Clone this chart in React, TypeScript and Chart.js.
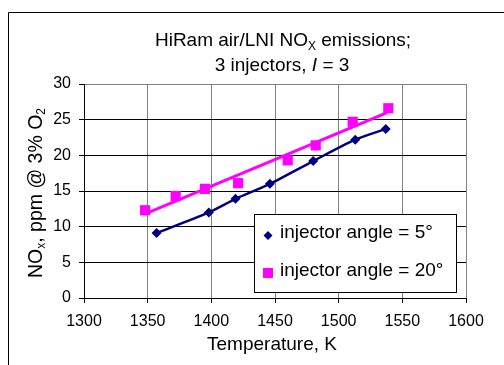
import React, { useEffect, useRef } from "react";
import { Chart, registerables } from "chart.js";

Chart.register(...registerables);

// ---- data ----
const temp5: number[] = [1357, 1398, 1419, 1446, 1480, 1513, 1537];
const nox5: number[] = [9.1, 12.0, 13.9, 16.0, 19.2, 22.2, 23.7];
const temp20: number[] = [1348, 1372, 1395, 1421, 1460, 1482, 1511, 1539];
const nox20: number[] = [12.3, 14.3, 15.3, 16.1, 19.3, 21.4, 24.7, 26.6];
const trendTemp20: number[] = [1348, 1538];
const trendNox20: number[] = [11.8, 26.0];
const seriesLabels: string[] = ["injector angle = 5°", "injector angle = 20°"];
const xTicks: number[] = [1300, 1350, 1400, 1450, 1500, 1550, 1600];
const yTicks: number[] = [0, 5, 10, 15, 20, 25, 30];

const FONT = '"Liberation Sans", Arial, sans-serif';
const NAVY = "#000080";
const MAGENTA = "#FF00FF";

type Run = { t: string; size: number; italic?: boolean; dy?: number };

function drawRuns(ctx: CanvasRenderingContext2D, runs: Run[], cx: number, y: number) {
  let total = 0;
  const widths = runs.map((r) => {
    ctx.font = `${r.italic ? "italic " : ""}${r.size}px ${FONT}`;
    const w = ctx.measureText(r.t).width;
    total += w;
    return w;
  });
  let x = cx - total / 2;
  ctx.textAlign = "left";
  ctx.textBaseline = "alphabetic";
  runs.forEach((r, i) => {
    ctx.font = `${r.italic ? "italic " : ""}${r.size}px ${FONT}`;
    ctx.fillText(r.t, x, y + (r.dy || 0));
    x += widths[i];
  });
}

const overlayPlugin = {
  id: "overlay",
  afterDraw(chart: any) {
    const ctx: CanvasRenderingContext2D = chart.ctx;
    const a = chart.chartArea;
    ctx.save();
    // outer frame
    ctx.strokeStyle = "#000";
    ctx.lineWidth = 1;
    ctx.beginPath();
    ctx.moveTo(8.5, 365);
    ctx.lineTo(8.5, 12.5);
    ctx.lineTo(504, 12.5);
    ctx.stroke();

    ctx.fillStyle = "#000";
    // title
    drawRuns(ctx, [
      { t: "HiRam air/LNI NO", size: 19 },
      { t: "X", size: 12, dy: 4 },
      { t: " emissions;", size: 19 },
    ], 283, 46);
    drawRuns(ctx, [
      { t: "3 injectors, ", size: 19 },
      { t: "I", size: 19, italic: true },
      { t: " = 3", size: 19 },
    ], 282, 71);

    // x title
    drawRuns(ctx, [{ t: "Temperature, K", size: 19 }], (a.left + a.right) / 2 - 3, 350);

    // y title
    ctx.save();
    ctx.translate(42, (a.top + a.bottom) / 2 + 2);
    ctx.rotate(-Math.PI / 2);
    drawRuns(ctx, [
      { t: "NO", size: 19.5 },
      { t: "x", size: 12, dy: 3 },
      { t: ", ppm @ 3% O", size: 19.5 },
      { t: "2", size: 12, dy: 3 },
    ], 0, 0);
    ctx.restore();

    // legend
    const lx = 254.5, ly = 214.5, lw = 202, lh = 78;
    ctx.fillStyle = "#fff";
    ctx.fillRect(lx, ly, lw, lh);
    ctx.strokeStyle = "#000";
    ctx.strokeRect(lx, ly, lw, lh);
    const ds = chart.data.datasets;
    // row 1 diamond
    ctx.fillStyle = ds[0].pointBackgroundColor;
    ctx.beginPath();
    const dx = 268, dyy = 235.5, r = 4.5;
    ctx.moveTo(dx - r, dyy);
    ctx.lineTo(dx, dyy - r);
    ctx.lineTo(dx + r, dyy);
    ctx.lineTo(dx, dyy + r);
    ctx.closePath();
    ctx.fill();
    // row 2 square
    ctx.fillStyle = ds[1].pointBackgroundColor;
    ctx.fillRect(263, 268, 10, 10);
    ctx.fillStyle = "#000";
    ctx.font = `19px ${FONT}`;
    ctx.textAlign = "left";
    ctx.textBaseline = "alphabetic";
    ctx.fillText(seriesLabels[0], 280, 238);
    ctx.fillText(seriesLabels[1], 280, 276);
    ctx.restore();
  },
};

export default function App() {
  const ref = useRef<HTMLCanvasElement | null>(null);
  useEffect(() => {
    if (!ref.current) return;
    const chart = new Chart(ref.current, {
      type: "scatter",
      data: {
        datasets: [
          {
            label: seriesLabels[0],
            data: temp5.map((x, i) => ({ x, y: nox5[i] })),
            showLine: true,
            borderColor: NAVY,
            borderWidth: 2.5,
            tension: 0.25,
            pointStyle: "rectRot",
            pointRadius: 5,
            pointBackgroundColor: NAVY,
            pointBorderColor: NAVY,
            pointBorderWidth: 0,
          },
          {
            label: seriesLabels[1],
            data: temp20.map((x, i) => ({ x, y: nox20[i] })),
            showLine: false,
            pointStyle: "rect",
            pointRadius: 7.2,
            pointBackgroundColor: MAGENTA,
            pointBorderColor: MAGENTA,
            pointBorderWidth: 0,
          },
          {
            label: "trend",
            data: trendTemp20.map((x, i) => ({ x, y: trendNox20[i] })),
            showLine: true,
            borderColor: MAGENTA,
            borderWidth: 3,
            pointRadius: 0,
          },
        ],
      },
      options: {
        animation: false,
        responsive: false,
        layout: { padding: { left: 0, right: 38, top: 84, bottom: 0 } },
        plugins: {
          legend: { display: false },
          tooltip: { enabled: false },
          title: { display: false },
        },
        scales: {
          x: {
            type: "linear",
            min: 1300,
            max: 1600,
            afterFit: (s: any) => { s.height = 67; },
            afterBuildTicks: (s: any) => { s.ticks = xTicks.map((v) => ({ value: v })); },
            ticks: {
              color: "#000",
              font: { family: FONT, size: 16 },
              padding: 9,
              maxRotation: 0,
              callback: (v: any) => String(v),
            },
            grid: { color: "#808080", lineWidth: 1, tickLength: 5, tickColor: "#000" },
            border: { color: "#000", width: 1 },
          },
          y: {
            type: "linear",
            min: 0,
            max: 30,
            afterFit: (s: any) => { s.width = 84; },
            afterBuildTicks: (s: any) => { s.ticks = yTicks.map((v) => ({ value: v })); },
            ticks: {
              color: "#000",
              font: { family: FONT, size: 16 },
              padding: 8,
              callback: (v: any) => String(v),
            },
            grid: {
              color: (c: any) => (c.tick && c.tick.value === 30 ? "#808080" : "#000"),
              lineWidth: 1,
              tickLength: 5,
              tickColor: "#000",
            },
            border: { color: "#000", width: 1 },
          },
        },
      },
      plugins: [overlayPlugin],
    } as any);
    return () => chart.destroy();
  }, []);
  return (
    <div style={{ position: "absolute", left: 0, top: 0, width: 504, height: 365, background: "#fff" }}>
      <canvas ref={ref} width={504} height={365} style={{ display: "block" }} />
    </div>
  );
}
